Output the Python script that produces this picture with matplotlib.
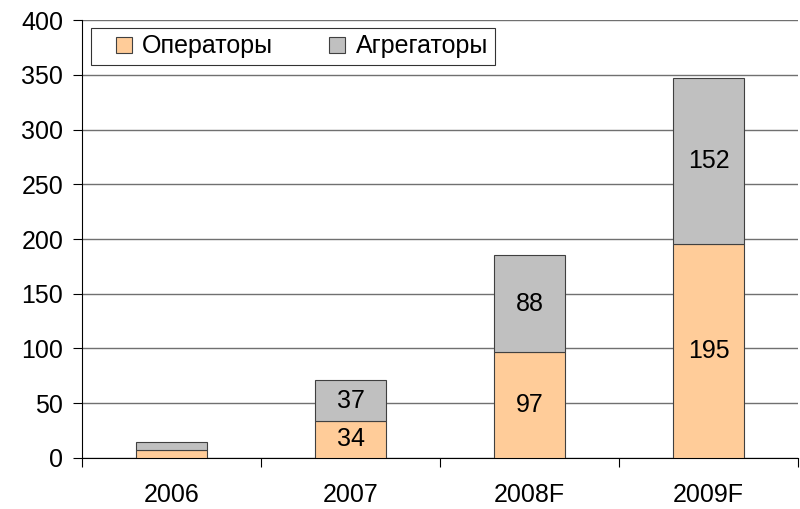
import matplotlib.pyplot as plt
from matplotlib.lines import Line2D
import numpy as np

plt.rcParams['font.family'] = ['Liberation Sans', 'DejaVu Sans']

years = ["2006", "2007", "2008F", "2009F"]
operators = [7, 34, 97, 195]
aggregators = [8, 37, 88, 152]
op_labels = ["", "34", "97", "195"]
ag_labels = ["", "37", "88", "152"]
series_names = ["Операторы", "Агрегаторы"]
series_colors = ["#FFCC99", "#C0C0C0"]

fig = plt.figure(figsize=(8, 5.09), dpi=100)
ax = fig.add_axes([0.1025, 0.1002, 0.895, 0.8605])

x = np.arange(len(years))
b1 = ax.bar(x, operators, width=0.4, color=series_colors[0], edgecolor="#404040",
            linewidth=0.8, zorder=3)
b2 = ax.bar(x, aggregators, width=0.4, bottom=operators, color=series_colors[1],
            edgecolor="#404040", linewidth=0.8, zorder=3)
ax.bar_label(b1, labels=op_labels, label_type="center", fontsize=18)
ax.bar_label(b2, labels=ag_labels, label_type="center", fontsize=18)

ax.set_xlim(-0.5, 3.5)
ax.set_ylim(0, 400)
ax.set_yticks(range(0, 401, 50))
ax.yaxis.grid(True, color="#707070", linewidth=1, zorder=0)
ax.set_axisbelow(True)

# category boundaries get the ticks, centres get the labels
ax.set_xticks(np.arange(-0.5, 3.6, 1))
ax.set_xticklabels([])
ax.set_xticks(x, minor=True)
ax.set_xticklabels(years, minor=True)
ax.tick_params(axis="x", which="minor", length=0, pad=18, labelsize=18)
ax.tick_params(axis="x", which="major", length=6.5, direction="out")
ax.tick_params(axis="y", length=6.5, direction="out", labelsize=18, pad=7)

ax.spines["right"].set_visible(False)
ax.spines["top"].set_visible(False)

handles = [Line2D([], [], marker="s", linestyle="none", markersize=11,
                  markerfacecolor=c, markeredgecolor="#404040",
                  markeredgewidth=0.8) for c in series_colors]
leg = ax.legend(handles, series_names, loc="upper left", ncol=2, fontsize=18,
                frameon=True, fancybox=False, edgecolor="black",
                handlelength=2.1, handletextpad=-0.3, columnspacing=1.5,
                borderpad=0.25, borderaxespad=0,
                bbox_to_anchor=(0.0126, 0.9817))
leg.get_frame().set_linewidth(0.8)

fig.savefig("out.png", dpi=100)
